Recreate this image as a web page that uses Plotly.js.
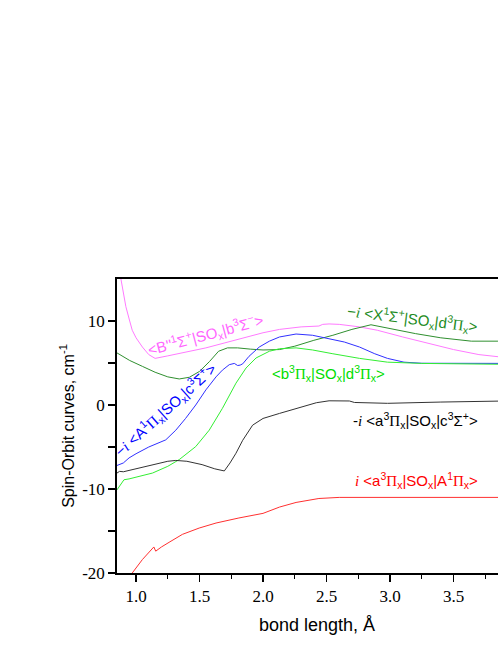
<!DOCTYPE html>
<html>
<head>
<meta charset="utf-8">
<script src="https://cdn.plot.ly/plotly-3.0.1.min.js"></script>
<style>
  html, body { margin: 0; padding: 0; overflow: hidden; background: #fff; }
  #grafik { width: 517px; height: 645px; }
</style>
</head>
<body>
<div id="grafik"></div>
<script>
// bond length (Angstrom) / spin-orbit matrix element (cm-1)
const xBb = [0.875, 0.90, 0.92, 0.95, 0.97, 1.00, 1.05, 1.10, 1.15, 1.25, 1.40, 1.55, 1.70, 1.85, 2.00, 2.13, 2.30, 2.44, 2.47, 2.52, 2.60, 2.76, 2.90, 3.10, 3.30, 3.50, 3.70, 3.85, 4.00];
const yBb = [15.5, 13.3, 11.7, 10.0, 8.9, 8.0, 6.9, 6.0, 5.55, 5.85, 6.3, 6.8, 7.4, 8.0, 8.6, 9.0, 9.3, 9.4, 9.6, 9.65, 9.6, 9.3, 8.9, 8.1, 7.35, 6.6, 6.0, 5.75, 5.5];

const xXd = [0.85, 0.95, 1.05, 1.15, 1.25, 1.34, 1.42, 1.50, 1.58, 1.65, 1.72, 1.80, 1.90, 2.00, 2.13, 2.25, 2.40, 2.55, 2.70, 2.85, 3.00, 3.20, 3.40, 3.64, 3.85, 4.00];
const yXd = [6.2, 5.3, 4.6, 3.9, 3.35, 3.1, 3.3, 4.0, 5.2, 6.4, 6.8, 6.8, 6.65, 6.55, 6.6, 7.0, 7.7, 8.3, 9.0, 9.55, 9.1, 8.5, 8.0, 7.6, 7.6, 7.6];

const xAc = [0.85, 0.90, 0.945, 1.00, 1.10, 1.17, 1.234, 1.313, 1.39, 1.47, 1.55, 1.63, 1.68, 1.734, 1.774, 1.80, 1.82, 1.84, 1.89, 1.97, 2.05, 2.13, 2.26, 2.39, 2.52, 2.64, 2.76, 2.88, 2.98, 3.11, 3.25, 3.40, 4.00];
const yAc = [-7.2, -6.9, -6.3, -5.8, -5.0, -4.6, -4.15, -3.0, -1.6, 0.0, 1.8, 3.35, 4.15, 4.8, 4.95, 4.7, 4.75, 4.9, 5.8, 6.9, 7.6, 8.1, 8.45, 8.3, 7.9, 7.5, 6.9, 6.1, 5.55, 5.1, 4.97, 4.95, 4.95];

const xbd = [0.85, 0.905, 0.945, 1.00, 1.13, 1.25, 1.34, 1.47, 1.576, 1.68, 1.734, 1.787, 1.866, 1.945, 2.05, 2.13, 2.26, 2.39, 2.55, 2.76, 2.98, 3.25, 3.85, 4.00];
const ybd = [-10.1, -8.9, -8.8, -8.6, -8.1, -7.3, -6.5, -4.95, -3.0, -0.4, 1.1, 2.6, 4.4, 5.6, 6.4, 6.7, 6.8, 6.55, 6.1, 5.55, 5.1, 4.95, 4.85, 4.85];

const xac = [0.85, 0.87, 0.90, 1.00, 1.13, 1.25, 1.313, 1.40, 1.52, 1.62, 1.695, 1.74, 1.787, 1.84, 1.918, 2.00, 2.13, 2.26, 2.42, 2.52, 2.68, 2.72, 2.98, 3.40, 3.85, 4.00];
const yac = [-8.1, -7.9, -7.95, -7.6, -7.1, -6.7, -6.6, -6.7, -7.1, -7.6, -7.85, -6.9, -5.74, -4.2, -2.4, -1.6, -1.0, -0.4, 0.27, 0.5, 0.48, 0.3, 0.2, 0.35, 0.48, 0.5];

const xaA = [0.95, 0.97, 1.05, 1.14, 1.155, 1.20, 1.26, 1.365, 1.497, 1.63, 1.81, 2.00, 2.13, 2.26, 2.44, 2.60, 4.00];
const yaA = [-20.5, -20.0, -18.4, -16.9, -17.4, -16.9, -16.35, -15.4, -14.65, -14.05, -13.45, -12.9, -12.15, -11.6, -11.13, -11.0, -11.0];

const xTicks = [1.0, 1.5, 2.0, 2.5, 3.0, 3.5];
const xTickText = ['1.0', '1.5', '2.0', '2.5', '3.0', '3.5'];
const yTicks = [-20, -15, -10, -5, 0, 5, 10];
const yTickText = ['-20', '', '-10', '', '0', '', '10'];

const SERIF = 'Liberation Serif';
const SANS = 'Liberation Sans';
const PI = '<span style="font-family:Liberation Serif">Π</span>';
const I = '<span style="font-family:Liberation Serif"><i>i</i></span>';

const labelText = [
  `&lt;B''<sup>1</sup>Σ<sup>+</sup>|SO<sub>x</sub>|b<sup>3</sup>Σ<sup>−</sup>&gt;`,
  `−${I} &lt;X<sup>1</sup>Σ<sup>+</sup>|SO<sub>x</sub>|d<sup>3</sup>${PI}<sub>x</sub>&gt;`,
  `&lt;b<sup>3</sup>${PI}<sub>x</sub>|SO<sub>x</sub>|d<sup>3</sup>${PI}<sub>x</sub>&gt;`,
  `−${I} &lt;A<sup>1</sup>${PI}<sub>x</sub>|SO<sub>x</sub>|c<sup>3</sup>Σ<sup>+</sup>&gt;`,
  `-${I} &lt;a<sup>3</sup>${PI}<sub>x</sub>|SO<sub>x</sub>|c<sup>3</sup>Σ<sup>+</sup>&gt;`,
  `${I} &lt;a<sup>3</sup>${PI}<sub>x</sub>|SO<sub>x</sub>|A<sup>1</sup>${PI}<sub>x</sub>&gt;`
];
const labelX = [1.55, 3.18, 2.515, 1.23, 3.20, 3.21];
const labelY = [8.4, 10.3, 3.8, -0.5, -1.9, -9.0];

function garis(x, y, warna) {
  return { x: x, y: y, type: 'scatter', mode: 'lines', line: { color: warna, width: 1 }, hoverinfo: 'skip' };
}

const warnaGaris = ['#ff7aff', '#2f8f2f', '#3030ff', '#33ee33', '#333333', '#ff3030'];
// label colours: pink, dark green, bright green, blue, black, red
const warnaTeks = ['#ff66ff', '#228b22', '#00dd00', '#0000ff', '#000000', '#ff0000'];
const sudut = [-15, 7, 0, -42, 0, 0];

const data = [
  garis(xBb, yBb, warnaGaris[0]),
  garis(xXd, yXd, warnaGaris[1]),
  garis(xAc, yAc, warnaGaris[2]),
  garis(xbd, ybd, warnaGaris[3]),
  garis(xac, yac, warnaGaris[4]),
  garis(xaA, yaA, warnaGaris[5])
];

const annotations = labelText.map((t, i) => ({
  x: labelX[i], y: labelY[i], xref: 'x', yref: 'y',
  text: t, showarrow: false, textangle: sudut[i],
  xanchor: 'center', yanchor: 'middle',
  font: { family: SANS, size: 15, color: warnaTeks[i] }
}));

// x axis title placed by hand (axis title standoff would not land where the original sits)
annotations.push({
  x: 0.5, y: -0.177, xref: 'paper', yref: 'paper',
  text: 'bond length, Å', showarrow: false,
  xanchor: 'center', yanchor: 'middle',
  font: { family: SANS, size: 18, color: '#000' }
});

const layout = {
  width: 517,
  height: 645,
  margin: { l: 117, r: 0, t: 279, b: 72 },
  paper_bgcolor: '#ffffff',
  plot_bgcolor: '#ffffff',
  showlegend: false,
  xaxis: {
    range: [0.85, 4.0],
    tickvals: xTicks,
    ticktext: xTickText,
    ticks: 'outside',
    ticklen: 7,
    tickwidth: 1.5,
    tickcolor: '#000',
    minor: { dtick: 0.25, tick0: 0, ticks: 'outside', ticklen: 4, tickwidth: 1.2, tickcolor: '#000' },
    showline: true,
    linecolor: '#000',
    linewidth: 1.8,
    mirror: true,
    showgrid: false,
    zeroline: false,
    tickfont: { family: SERIF, size: 17, color: '#000' }
  },
  xaxis2: {
    overlaying: 'x',
    side: 'top',
    range: [0.85, 4.0],
    tickvals: xTicks,
    ticks: 'outside',
    ticklen: 7,
    tickwidth: 1.5,
    tickcolor: '#000',
    showticklabels: false,
    showgrid: false,
    zeroline: false,
    showline: false
  },
  yaxis: {
    range: [-20, 15],
    tickvals: yTicks,
    ticktext: yTickText,
    ticks: 'outside',
    ticklen: 7,
    tickwidth: 1.5,
    tickcolor: '#000',
    showline: true,
    linecolor: '#000',
    linewidth: 1.8,
    showgrid: false,
    zeroline: false,
    tickfont: { family: SERIF, size: 17, color: '#000' },
    title: { text: 'Spin-Orbit curves, cm<sup>-1</sup>', font: { family: SANS, size: 16, color: '#000' } }
  },
  annotations: annotations
};

Plotly.newPlot('grafik', data, layout, { displayModeBar: false, staticPlot: true });
</script>
</body>
</html>
